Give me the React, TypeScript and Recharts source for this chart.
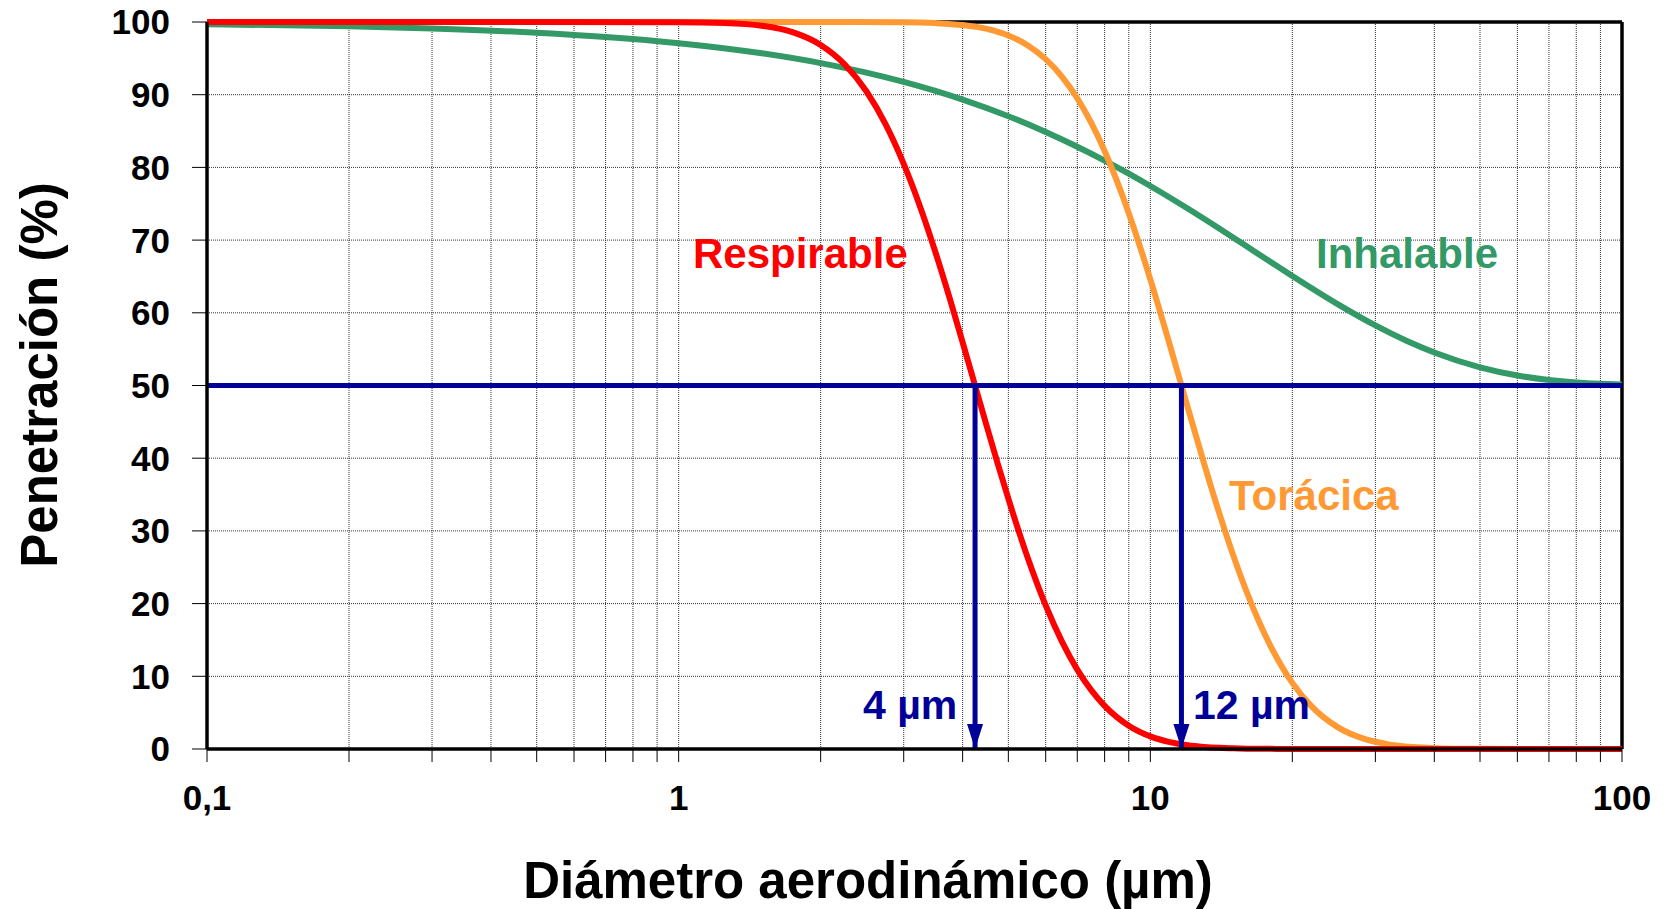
import React from 'react';
import { LineChart, Line, XAxis, YAxis, CartesianGrid, ReferenceLine } from 'recharts';

// ---- data ----
const xGridTicks = [
  0.1, 0.2, 0.3, 0.4, 0.5, 0.6, 0.7, 0.8, 0.9,
  1, 2, 3, 4, 5, 6, 7, 8, 9,
  10, 20, 30, 40, 50, 60, 70, 80, 90, 100,
];
const decadeTicks = [0.1, 1, 10, 100];
const decadeLabels = ['0,1', '1', '10', '100'];
const yTicks = [0, 10, 20, 30, 40, 50, 60, 70, 80, 90, 100];

const respX = [0.1, 0.5, 1, 1.25, 1.5, 1.75, 2, 2.25, 2.5, 2.75, 3, 3.25, 3.5, 3.75, 4, 4.25, 4.5, 4.75, 5, 5.5, 6, 6.5, 7, 7.5, 8, 9, 10, 11, 12, 13, 14, 15, 16, 18, 20, 30, 50, 100];
const respY = [100, 100, 99.98, 99.87, 99.49, 98.57, 96.85, 94.16, 90.47, 85.85, 80.48, 74.59, 68.4, 62.12, 55.94, 50, 44.39, 39.19, 34.43, 26.24, 19.75, 14.74, 10.92, 8.06, 5.94, 3.21, 1.74, 0.95, 0.52, 0.29, 0.16, 0.09, 0.05, 0.02, 0, 0, 0, 0];

const thorX = [0.1, 1, 2, 3, 3.5, 4, 4.5, 5, 5.5, 6, 6.5, 7, 7.5, 8, 9, 10, 11, 12, 13, 14, 15, 16, 17, 18, 20, 22, 25, 28, 32, 36, 40, 50, 60, 100];
const thorY = [100, 100, 100, 99.96, 99.85, 99.58, 99.05, 98.14, 96.78, 94.89, 92.46, 89.51, 86.08, 82.25, 73.71, 64.6, 55.55, 47.01, 39.26, 32.44, 26.58, 21.63, 17.51, 14.12, 9.09, 5.82, 2.97, 1.52, 0.63, 0.27, 0.12, 0.02, 0, 0];

const inhX = [0.1, 0.2, 0.3, 0.5, 0.7, 1, 1.5, 2, 2.5, 3, 4, 5, 6, 7, 8, 9, 10, 12, 14, 16, 18, 20, 25, 30, 35, 40, 50, 60, 70, 80, 90, 100];
const inhY = [99.7, 99.4, 99.11, 98.52, 97.94, 97.09, 95.7, 94.35, 93.04, 91.76, 89.33, 87.04, 84.88, 82.85, 80.94, 79.14, 77.44, 74.34, 71.59, 69.14, 66.98, 65.06, 61.16, 58.26, 56.12, 54.54, 52.49, 51.37, 50.75, 50.41, 50.23, 50.12];

const halfLevel = 50;
const halfLineX = [0.1, 100];
const cutoffX = [4.25, 11.64];
const cutoffYs = [50, 0];

// ---- built series ----
const zip = (xs: number[], ys: number[]) => xs.map((x, i) => ({ x, y: ys[i] }));
const respData = zip(respX, respY);
const thorData = zip(thorX, thorY);
const inhData = zip(inhX, inhY);
const halfData = halfLineX.map((x) => ({ x, y: halfLevel }));
const cutoffData = cutoffX.map((cx) => cutoffYs.map((y) => ({ x: cx, y })));

const FONT = '"Liberation Sans", Arial, Helvetica, sans-serif';
const NAVY = '#000099';
const RED = '#FF0000';
const ORANGE = '#FF9933';
const GREEN = '#339966';

const fmtX = (v: number) => {
  const i = decadeTicks.indexOf(v);
  return i >= 0 ? decadeLabels[i] : '';
};

const ArrowHead = (props: any) => {
  const { cx, cy, index } = props;
  if (index !== 1 || cx == null || cy == null) return <g key={`a${index}`} />;
  return (
    <polygon
      key={`a${index}`}
      points={`${cx - 8},${cy - 25} ${cx + 8},${cy - 25} ${cx},${cy}`}
      fill={NAVY}
      stroke="none"
    />
  );
};

export default function App() {
  const W = 1666;
  const H = 909;
  return (
    <div style={{ position: 'absolute', left: 0, top: 0, width: W, height: H, background: '#fff' }}>
      <LineChart
        width={W}
        height={H}
        margin={{ top: 22, right: 44, left: 107, bottom: 100 }}
      >
        <CartesianGrid stroke="#333" strokeDasharray="1 1" strokeWidth={1} />
        <XAxis
          dataKey="x"
          type="number"
          scale="log"
          domain={[0.1, 100]}
          allowDataOverflow
          ticks={xGridTicks}
          tickFormatter={fmtX}
          interval={0}
          height={60}
          tickSize={13}
          tickMargin={23}
          axisLine={{ stroke: '#000', strokeWidth: 3.5 }}
          tickLine={{ stroke: '#000', strokeWidth: 1 }}
          tick={{ fill: '#000', fontSize: 35, fontWeight: 700, fontFamily: FONT }}
        />
        <YAxis
          type="number"
          domain={[0, 100]}
          ticks={yTicks}
          interval={0}
          width={100}
          tickSize={15}
          tickMargin={22}
          axisLine={{ stroke: '#000', strokeWidth: 3.5 }}
          tickLine={{ stroke: '#000', strokeWidth: 1 }}
          tick={{ fill: '#000', fontSize: 35, fontWeight: 700, fontFamily: FONT }}
        />
        <ReferenceLine y={100} stroke="#000" strokeWidth={3.5} ifOverflow="visible" />
        <ReferenceLine x={100} stroke="#000" strokeWidth={3.5} ifOverflow="visible" />

        <Line data={inhData} dataKey="y" type="monotone" stroke={GREEN} strokeWidth={6} dot={false} isAnimationActive={false} />
        <Line data={thorData} dataKey="y" type="monotone" stroke={ORANGE} strokeWidth={6} dot={false} isAnimationActive={false} />
        <Line data={respData} dataKey="y" type="monotone" stroke={RED} strokeWidth={6} dot={false} isAnimationActive={false} />
        <Line data={halfData} dataKey="y" type="linear" stroke={NAVY} strokeWidth={5} dot={false} isAnimationActive={false} />
        {cutoffData.map((d, i) => (
          <Line
            key={`cut${i}`}
            data={d}
            dataKey="y"
            type="linear"
            stroke={NAVY}
            strokeWidth={5}
            dot={ArrowHead}
            activeDot={false}
            isAnimationActive={false}
          />
        ))}
      </LineChart>

      <svg
        width={W}
        height={H}
        style={{ position: 'absolute', left: 0, top: 0, pointerEvents: 'none' }}
        fontFamily={FONT}
        fontWeight={700}
      >
        <text x={693} y={268} fontSize={42} fill={RED}>Respirable</text>
        <text x={1316} y={268} fontSize={42} fill={GREEN}>Inhalable</text>
        <text x={1229} y={510} fontSize={42} fill={ORANGE}>Torácica</text>
        <text x={863} y={719} fontSize={41} fill={NAVY}>4 µm</text>
        <text x={1193} y={719} fontSize={41} fill={NAVY}>12 µm</text>
        <text x={868} y={898} fontSize={51} fill="#000" textAnchor="middle">Diámetro aerodinámico (µm)</text>
        <text
          x={0}
          y={0}
          fontSize={51}
          fill="#000"
          textAnchor="middle"
          transform="translate(57 375) rotate(-90)"
        >
          Penetración (%)
        </text>
      </svg>
    </div>
  );
}
